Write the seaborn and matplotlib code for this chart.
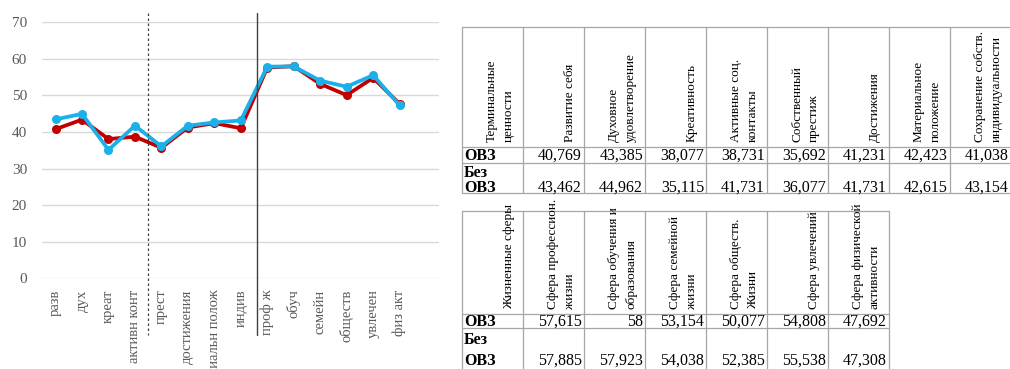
import matplotlib
matplotlib.use("Agg")
import matplotlib.pyplot as plt
import matplotlib.transforms as mtransforms
import numpy as np
import pandas as pd
import seaborn as sns

# --- data -------------------------------------------------------------
groups = ["ОВЗ", "Без ОВЗ"]

terminal_short = ["разв", "дух", "креат", "активн конт", "прест",
                  "достижения", "материальн полож", "индив"]
spheres_short = ["проф ж", "обуч", "семейн", "обществ", "увлечен", "физ акт"]

terminal_headers = ["Развитие себя", "Духовное\nудовлетворение", "Креативность",
                    "Активные соц.\nконтакты", "Собственный\nпрестиж", "Достижения",
                    "Материальное\nположение", "Сохранение собств.\nиндивидуальности"]
spheres_headers = ["Сфера профессион.\nжизни", "Сфера обучения и\nобразования",
                   "Сфера семейной\nжизни", "Сфера обществ.\nЖизни",
                   "Сфера увлечений", "Сфера физической\nактивности"]

terminal_ovz = [40.769, 43.385, 38.077, 38.731, 35.692, 41.231, 42.423, 41.038]
terminal_bez = [43.462, 44.962, 35.115, 41.731, 36.077, 41.731, 42.615, 43.154]
spheres_ovz = [57.615, 58.0, 53.154, 50.077, 54.808, 47.692]
spheres_bez = [57.885, 57.923, 54.038, 52.385, 55.538, 47.308]

y_ticks = [0, 10, 20, 30, 40, 50, 60, 70]

# --- styling ----------------------------------------------------------
sns.set_theme(style="white")
plt.rcParams["font.family"] = ["Liberation Serif", "DejaVu Serif"]

RED = "#C00000"
BLUE = "#1AB0EA"
GRID = "#D9D9D9"
TICK = "#595959"
BORDER = "#A6A6A6"

W, H = 1010, 369
fig = plt.figure(figsize=(W / 100, H / 100), dpi=100)

# pixel-space canvas for the two tables
canvas = fig.add_axes([0, 0, 1, 1])
canvas.set_xlim(0, W)
canvas.set_ylim(H, 0)
canvas.axis("off")


def fmt(v):
    s = f"{v:.3f}".rstrip("0").rstrip(".")
    return s.replace(".", ",")


def draw_table(x0, y0, col_w, head_h, row1_h, row2_h, corner, headers,
               ovz, bez, two_line_gap, base_off):
    ncol = len(headers) + 1
    x_edges = [x0 + i * col_w for i in range(ncol + 1)]
    y_edges = [y0, y0 + head_h, y0 + head_h + row1_h, y0 + head_h + row1_h + row2_h]
    for x in x_edges:
        canvas.plot([x, x], [y_edges[0], y_edges[-1]], color=BORDER, lw=0.9)
    for y in y_edges:
        canvas.plot([x_edges[0], x_edges[-1]], [y, y], color=BORDER, lw=0.9)
    # rotated headers
    for i, name in enumerate([corner] + headers):
        canvas.text(x_edges[i + 1] - 8, y_edges[1] - 5, name, rotation=90,
                    ha="right", va="bottom", multialignment="left",
                    fontsize=9.5, linespacing=1.55, color="black")
    # row 1
    yb1 = (y_edges[1] + y_edges[2]) / 2 + 5
    canvas.text(x0 + 2, yb1, "ОВЗ", ha="left", va="baseline",
                fontsize=11.5, fontweight="bold", color="black")
    for i, v in enumerate(ovz):
        canvas.text(x_edges[i + 2] - 2, yb1, fmt(v), ha="right", va="baseline",
                    fontsize=11.5, color="black")
    # row 2
    yb2 = y_edges[3] - base_off
    canvas.text(x0 + 2, yb2, "ОВЗ", ha="left", va="baseline",
                fontsize=11.5, fontweight="bold", color="black")
    canvas.text(x0 + 2, yb2 - two_line_gap, "Без", ha="left", va="baseline",
                fontsize=11.5, fontweight="bold", color="black")
    for i, v in enumerate(bez):
        canvas.text(x_edges[i + 2] - 2, yb2, fmt(v), ha="right", va="baseline",
                    fontsize=11.5, color="black")


draw_table(462, 27, 61, 120, 16, 30, "Терминальные\nценности",
           terminal_headers, terminal_ovz, terminal_bez,
           two_line_gap=15, base_off=1)
draw_table(462, 211, 61, 103, 14, 42, "Жизненные сферы",
           spheres_headers, spheres_ovz, spheres_bez,
           two_line_gap=21, base_off=5)

# --- line chart -------------------------------------------------------
categories = terminal_short + spheres_short
df = pd.DataFrame({
    "category": categories * 2,
    "value": terminal_ovz + spheres_ovz + terminal_bez + spheres_bez,
    "group": [groups[0]] * len(categories) + [groups[1]] * len(categories),
})

left, right = 42.3 / W, 439.3 / W
bottom, top = 1 - 278.3 / H, 1 - 22.3 / H
ax = fig.add_axes([left, bottom, right - left, top - bottom])
ax.patch.set_alpha(0)

sns.lineplot(data=df, x="category", y="value", hue="group",
             hue_order=groups, palette=[RED, BLUE], sort=False,
             marker="o", markersize=6.5, markeredgewidth=0,
             linewidth=2.7, legend=False, ax=ax)

ax.set_xlim(-0.5, len(categories) + 0.5)
ax.set_ylim(0, 70)
ax.set_yticks(y_ticks)
ax.set_xticks(range(len(categories)))
ax.set_xticklabels(categories, rotation=90, va="top", ha="center")
ax.tick_params(axis="y", length=0, pad=11, labelsize=11, labelcolor=TICK)
ax.tick_params(axis="x", length=0, pad=8, labelsize=10.5, labelcolor=TICK)
ax.set_xlabel("")
ax.set_ylabel("")
ax.yaxis.grid(True, color=GRID, lw=1)
ax.xaxis.grid(False)
for s in ax.spines.values():
    s.set_visible(False)

# separators between value groups, extending past the plot area
blend = mtransforms.blended_transform_factory(ax.transData, ax.transData)
ax.plot([3.5, 3.5], [72.6, -15.5], color="#404040", lw=0.9, ls=(0, (2, 2)),
        clip_on=False, transform=blend)
ax.plot([7.6, 7.6], [72.6, -15.5], color="#404040", lw=1.0,
        clip_on=False, transform=blend)

fig.savefig("out.png", dpi=100)
